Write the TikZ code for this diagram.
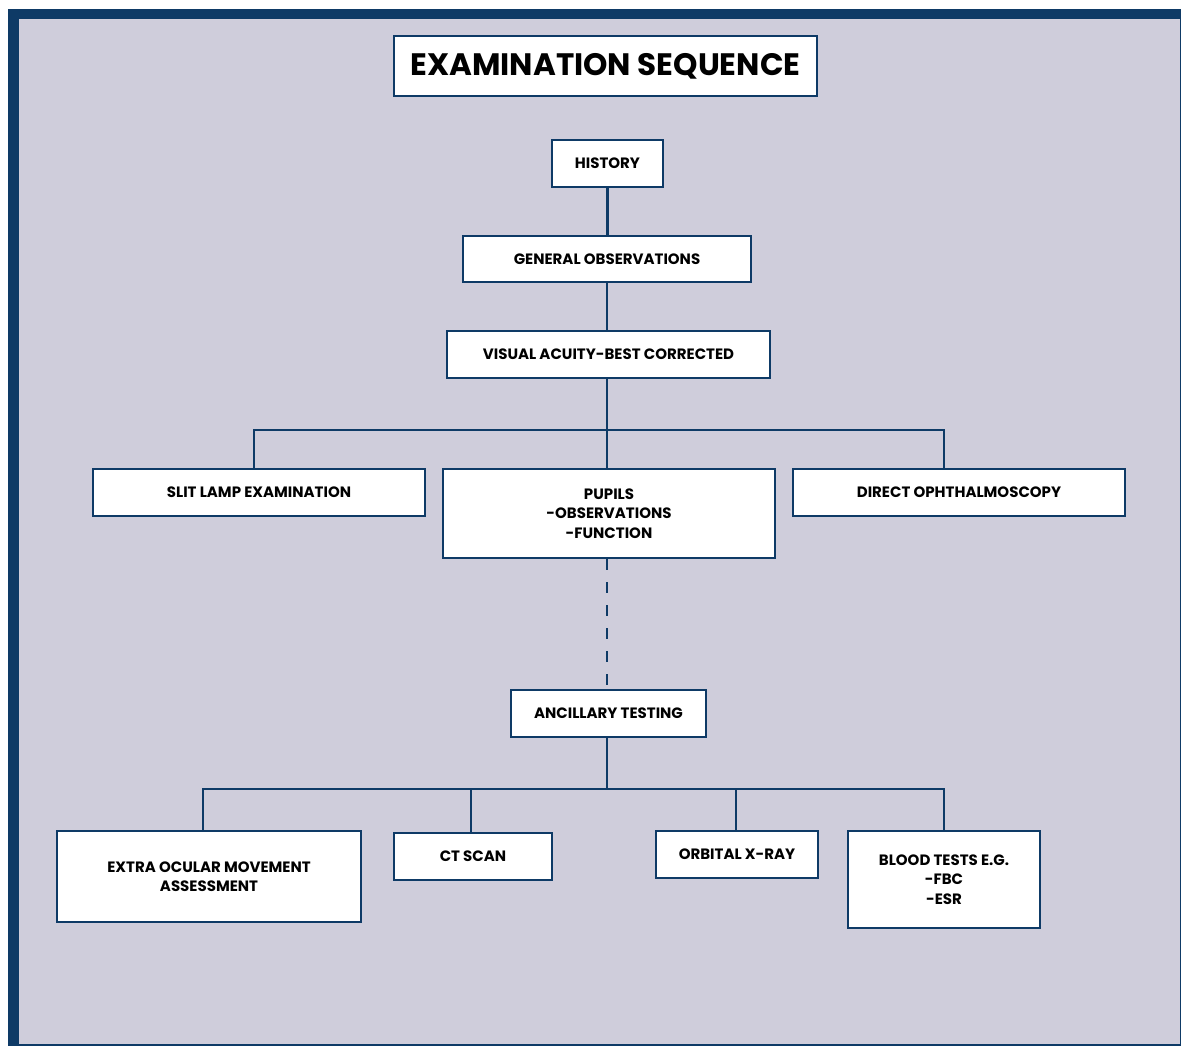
\documentclass[tikz,border=0pt]{standalone}
\usepackage{fontspec}
\setmainfont{Poppins}
\usetikzlibrary{positioning,calc}
\definecolor{navy}{HTML}{0E3A66}
\definecolor{lavender}{HTML}{CFCDDB}
\tikzset{
box/.style={draw=navy, line width=2.4pt, fill=white, text=black, align=center,
  inner sep=0pt, font=\fontsize{15}{19.5}\selectfont\bfseries},
titlebox/.style={box, font=\fontsize{31}{36}\selectfont\bfseries},
link/.style={draw=navy, line width=2.2pt},
}
\begin{document}
\begin{tikzpicture}[x=1pt,y=-1pt]
\useasboundingbox (0,0) rectangle (1181,1046);
\fill[navy] (8,9) rectangle (1181,1046);
\fill[lavender] (19,19) rectangle (1179.5,1043.5);

\node[titlebox, minimum width=423pt, minimum height=60pt] (title) at (605.5,66) {EXAMINATION SEQUENCE};

\node[box, minimum width=111pt, minimum height=47pt] (history) at (607.5,163.5) {HISTORY};
\node[box, minimum width=288pt, minimum height=46pt] (genobs) at (607,259) {GENERAL OBSERVATIONS};
\node[box, minimum width=323pt, minimum height=47pt] (acuity) at (608.5,354.5) {VISUAL ACUITY-BEST CORRECTED};

\node[box, minimum width=332pt, minimum height=47pt] (slitlamp) at (259,492.5) {SLIT LAMP EXAMINATION};
\node[box, minimum width=332pt, minimum height=89pt] (pupils) at (609,513.5) {PUPILS\\-OBSERVATIONS\\-FUNCTION};
\node[box, minimum width=332pt, minimum height=47pt] (ophthal) at (959,492.5) {DIRECT OPHTHALMOSCOPY};

\node[box, minimum width=195pt, minimum height=47pt] (ancillary) at (608.5,713.5) {ANCILLARY TESTING};

\node[box, minimum width=304pt, minimum height=91pt] (eom) at (209,876.5) {EXTRA OCULAR MOVEMENT\\ASSESSMENT};
\node[box, minimum width=158pt, minimum height=47pt] (ctscan) at (473,856.5) {CT SCAN};
\node[box, minimum width=162pt, minimum height=47pt] (xray) at (737,854.5) {ORBITAL X-RAY};
\node[box, minimum width=192pt, minimum height=97pt] (blood) at (944,879.5) {BLOOD TESTS E.G.\\-FBC\\-ESR};

\coordinate (busA) at (607,430);
\coordinate (busB) at (607,789);

\draw[link] (history.south) -- (history.south |- genobs.north);
\draw[link] (genobs.south) -- (genobs.south |- acuity.north);
\draw[link] (acuity.south -| busA) -- (pupils.north -| busA);
\draw[link] ([xshift=-5pt]slitlamp.north) |- (busA) -| ([xshift=-15pt]ophthal.north);

\draw[link, dash pattern=on 11pt off 12pt] (pupils.south -| busA) -- (ancillary.north -| busA);

\draw[link] (ancillary.south -| busB) -- (busB);
\draw[link] ([xshift=-6pt]eom.north) |- (busB) -| (blood.north);
\draw[link] ([xshift=-2pt]ctscan.north) -- ([xshift=-2pt]ctscan.north |- busB);
\draw[link] ([xshift=-1pt]xray.north) -- ([xshift=-1pt]xray.north |- busB);
\end{tikzpicture}
\end{document}
